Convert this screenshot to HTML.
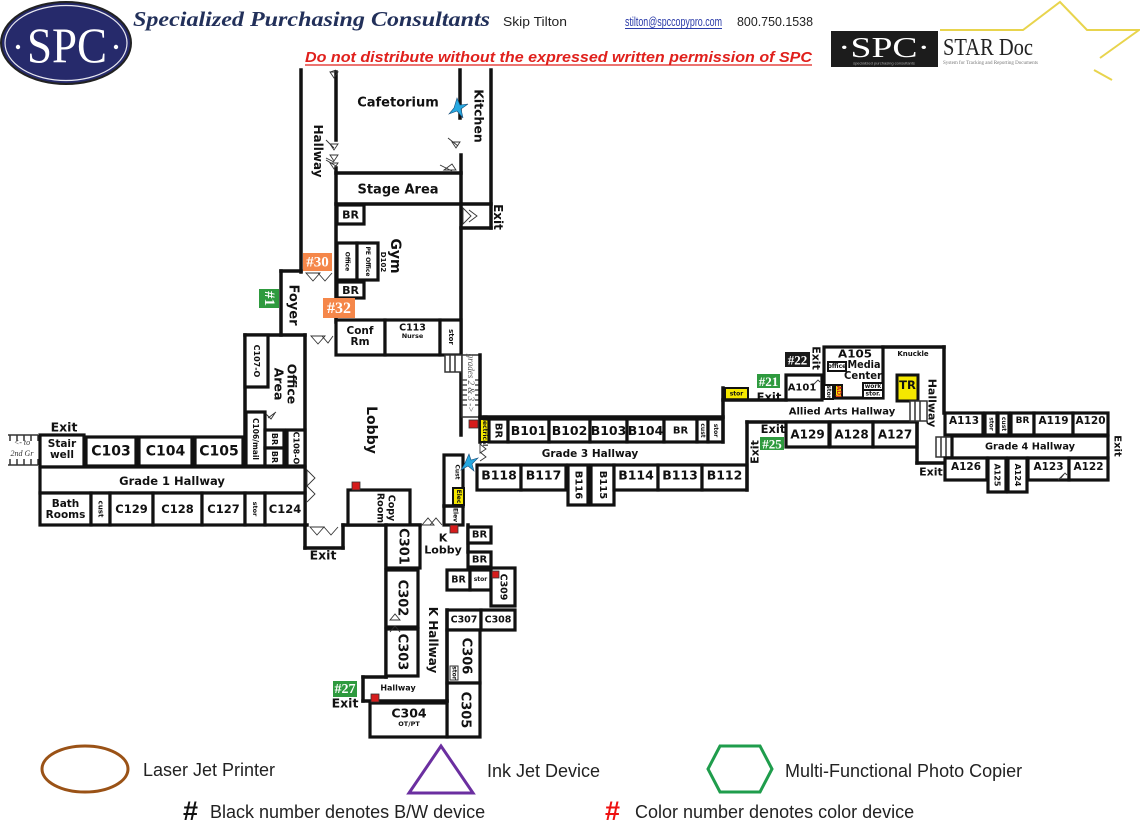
<!DOCTYPE html>
<html><head><meta charset="utf-8"><style>
html,body{margin:0;padding:0;background:#fff;}
svg{display:block}
.w{stroke:#111;stroke-width:3.5;fill:none;stroke-linecap:square}
.r{stroke:#111;stroke-width:3.2;fill:#fff}
.y{stroke:#111;stroke-width:2;fill:#f5e800}
.t{font-family:"DejaVu Sans",sans-serif;font-weight:bold;fill:#111;text-anchor:middle;dominant-baseline:central}
.s{font-family:"DejaVu Sans",sans-serif;font-weight:bold;fill:#111;text-anchor:middle;dominant-baseline:central;font-size:6px}
.d{stroke:#333;stroke-width:0.9;fill:none}
.b{font-family:"Liberation Serif",serif;font-weight:bold;fill:#fff;text-anchor:middle;dominant-baseline:central}
.lg{font-family:"Liberation Sans",sans-serif;fill:#222;font-size:18px}
</style></head><body>
<svg width="1140" height="828" viewBox="0 0 1140 828" xmlns="http://www.w3.org/2000/svg">
<!-- HEADER -->
<ellipse cx="66" cy="43" rx="65" ry="41" fill="#262a6b" stroke="#222" stroke-width="2"/>
<ellipse cx="66" cy="43" rx="61" ry="37.5" fill="none" stroke="#e8e8f0" stroke-width="1.2"/>
<text x="67" y="62" font-family="Liberation Serif,serif" font-size="50" fill="#fff" text-anchor="middle" textLength="80" lengthAdjust="spacingAndGlyphs">SPC</text>
<circle cx="18" cy="47" r="2.2" fill="#fff"/><circle cx="116" cy="47" r="2.2" fill="#fff"/>
<text x="133" y="26" font-family="Liberation Serif,serif" font-weight="bold" font-style="italic" font-size="21" fill="#22305a" textLength="357" lengthAdjust="spacingAndGlyphs">Specialized Purchasing Consultants</text>
<text x="503" y="26" font-family="Liberation Sans,sans-serif" font-size="13" fill="#222" textLength="64" lengthAdjust="spacingAndGlyphs">Skip Tilton</text>
<text x="625" y="26" font-family="Liberation Sans,sans-serif" font-size="13" fill="#2a3aa8" textLength="97" lengthAdjust="spacingAndGlyphs">stilton@spccopypro.com</text>
<line x1="625" y1="28.5" x2="722" y2="28.5" stroke="#2a3aa8" stroke-width="1"/>
<text x="737" y="26" font-family="Liberation Sans,sans-serif" font-size="13" fill="#222" textLength="76" lengthAdjust="spacingAndGlyphs">800.750.1538</text>
<text x="305" y="62" font-family="Liberation Sans,sans-serif" font-weight="bold" font-style="italic" font-size="15" fill="#e0201c" textLength="507" lengthAdjust="spacingAndGlyphs">Do not distribute without the expressed written permission of SPC</text>
<line x1="305" y1="65" x2="812" y2="65" stroke="#e0201c" stroke-width="1.2"/>
<!-- STAR Doc logo -->
<polyline points="940,30 1023,30 1060,2 1087,30 1139,30 1100,58" fill="none" stroke="#e8d44d" stroke-width="2"/>
<polyline points="1094,70 1112,80" fill="none" stroke="#e8d44d" stroke-width="2"/>
<rect x="831" y="31" width="107" height="36" fill="#1c1c1c"/>
<text x="884" y="57" font-family="Liberation Serif,serif" font-size="29" fill="#fff" text-anchor="middle" textLength="92" lengthAdjust="spacingAndGlyphs">·SPC·</text>
<text x="884" y="64.5" font-family="Liberation Sans,sans-serif" font-size="4" fill="#aaa" text-anchor="middle">specialized purchasing consultants</text>
<text x="943" y="55" font-family="Liberation Serif,serif" font-size="24" fill="#222" textLength="90" lengthAdjust="spacingAndGlyphs">STAR Doc</text>
<text x="943" y="64" font-family="Liberation Serif,serif" font-size="5" fill="#777" textLength="95" lengthAdjust="spacingAndGlyphs">System for Tracking and Reporting Documents</text>

<!-- TOP SECTION WALLS -->
<line class="w" x1="301" y1="70" x2="301" y2="272"/>
<line class="w" x1="336" y1="72" x2="336" y2="140"/>
<line class="w" x1="336" y1="168" x2="336" y2="322"/>
<line class="w" x1="460" y1="70" x2="460" y2="118"/>
<line class="w" x1="461" y1="155" x2="461" y2="435"/>
<line class="w" x1="491" y1="70" x2="491" y2="228"/>
<line class="w" x1="336" y1="173" x2="461" y2="173"/>
<line class="w" x1="336" y1="204" x2="491" y2="204"/>
<line class="w" x1="461" y1="228" x2="491" y2="228"/>
<rect class="r" x="337" y="205" width="27" height="19"/>
<rect class="r" x="337" y="243" width="20" height="37"/>
<rect class="r" x="357" y="243" width="21" height="37"/>
<rect class="r" x="337" y="282" width="27" height="16"/>
<rect class="r" x="336" y="320" width="49" height="35"/>
<rect class="r" x="385" y="320" width="55" height="35"/>
<rect class="r" x="440" y="320" width="21" height="35"/>
<!-- Foyer -->
<line class="w" x1="281" y1="271" x2="281" y2="335"/>
<line class="w" x1="281" y1="271" x2="301" y2="271"/>

<!-- doors top -->
<path class="d" d="M330 72 l6 -2 M330 72 l4 6 l4 -6 z"/>
<path class="d" d="M330 144 l4 6 l4 -6 z M330 155 l4 6 l4 -6 z M326 140 l8 8 M326 158 l8 4"/>
<path class="d" d="M330 163 l4 6 l4 -6 z M326 160 l10 6"/>
<path class="d" d="M452 142 l4 6 l4 -6 z M448 138 l10 8"/>
<path class="d" d="M444 170 l8 -6 l4 6 z M440 165 l12 6"/>
<path class="d" d="M463 208 l8 8 l-8 8 z M469 210 l8 6 l-8 6"/>
<path class="d" d="M306 273 l7 8 l7 -8 z M318 273 l7 8 l7 -8"/>
<path class="d" d="M311 336 l7 8 l7 -8 z M322 336 l6 7 l5 -7"/>

<!-- Office area -->
<line class="w" x1="245" y1="335" x2="305" y2="335"/>
<line class="w" x1="245" y1="335" x2="245" y2="467"/>
<line class="w" x1="305" y1="335" x2="305" y2="548"/>
<rect class="r" x="245" y="335" width="23" height="52"/>
<rect class="r" x="246" y="412" width="19" height="54"/>
<rect class="r" x="265" y="430" width="19" height="18"/>
<rect class="r" x="265" y="448" width="19" height="18"/>
<rect class="r" x="287" y="430" width="18" height="36"/>
<path class="d" d="M266 414 l5 5 l4 -6 M268 418 l8 -6"/>

<!-- Left wing -->
<path class="d" style="stroke-width:1.5" d="M8 435 H38 M10 435 v6 M17 435 v6 M24 435 v6 M31 435 v6 M38 435 v6 M8 465 H38 M10 465 v-6 M17 465 v-6 M24 465 v-6 M31 465 v-6 M38 465 v-6"/>
<text x="22" y="445" font-family="Liberation Serif,serif" font-style="italic" font-size="8" fill="#333" text-anchor="middle">&lt;- to</text>
<text x="22" y="456" font-family="Liberation Serif,serif" font-style="italic" font-size="8" fill="#333" text-anchor="middle">2nd Gr</text>
<rect class="r" x="40" y="435" width="44" height="32"/>
<rect class="r" x="86" y="437" width="50" height="29"/>
<rect class="r" x="139" y="437" width="53" height="29"/>
<rect class="r" x="195" y="437" width="48" height="29"/>
<rect class="r" x="40" y="467" width="265" height="26"/>
<rect class="r" x="40" y="493" width="51" height="32"/>
<rect class="r" x="91" y="493" width="19" height="32"/>
<rect class="r" x="110" y="493" width="43" height="32"/>
<rect class="r" x="153" y="493" width="49" height="32"/>
<rect class="r" x="202" y="493" width="43" height="32"/>
<rect class="r" x="245" y="493" width="20" height="32"/>
<rect class="r" x="265" y="493" width="40" height="32"/>
<path class="d" d="M307 470 l8 8 l-8 8 z M307 486 l8 8 l-8 8"/>
<!-- exit box below -->
<line class="w" x1="305" y1="548" x2="343" y2="548"/>
<line class="w" x1="343" y1="525" x2="343" y2="548"/>
<path class="d" d="M310 527 l7 8 l7 -8 z M324 527 l7 8 l7 -8"/>

<!-- Lobby bottom -->
<line class="w" x1="305" y1="525" x2="307" y2="525"/>
<line class="w" x1="343" y1="525" x2="420" y2="525"/>
<rect class="r" x="348" y="490" width="62" height="35"/>
<rect x="352" y="482" width="8" height="8" fill="#d61c1c" stroke="#333" stroke-width="0.8"/>

<!-- stairs center -->
<rect x="445" y="355" width="17" height="17" fill="#fff" stroke="#333" stroke-width="1.5"/>
<path class="d" style="stroke-width:1.5" d="M450 355 v17 M455 355 v17"/>
<rect x="462" y="355" width="18" height="62" fill="#fff" stroke="#333" stroke-width="1.5"/>
<path class="d" style="stroke-width:1.3" d="M462 380 h5 M462 385 h5 M462 390 h5 M462 395 h5 M462 400 h5 M462 405 h5 M475 380 h5 M475 385 h5 M475 390 h5 M475 395 h5 M475 400 h5 M475 405 h5"/>
<text transform="translate(471,383) rotate(90)" font-family="Liberation Serif,serif" font-style="italic" font-size="9" fill="#555" text-anchor="middle" dominant-baseline="central">grades 2 &amp; 3 -&gt;</text>
<line class="w" x1="480" y1="355" x2="480" y2="442"/>
<rect x="469" y="420" width="9" height="8" fill="#d61c1c" stroke="#333" stroke-width="0.8"/>
<rect class="y" x="480" y="419" width="9" height="23"/>
<path class="d" d="M480 444 l6 5 l-6 4 z M480 452 l6 5 l-6 4"/>

<!-- Cust / Elec column -->
<rect class="r" x="444" y="455" width="19" height="70"/>
<rect class="y" x="453" y="488" width="11" height="17"/>
<line class="w" x1="444" y1="506" x2="463" y2="506"/>
<path class="d" d="M422 525 l6 -7 l6 7 z M430 525 l6 -7 l6 7"/>
<rect x="450" y="525" width="8" height="8" fill="#d61c1c" stroke="#333" stroke-width="0.8"/>

<!-- K wing -->
<line class="w" x1="386" y1="525" x2="386" y2="677"/>
<rect class="r" x="386" y="525" width="34" height="43"/>
<rect class="r" x="386" y="570" width="32" height="57"/>
<rect class="r" x="386" y="629" width="32" height="47"/>
<path class="d" d="M390 620 l5 -6 l5 6 z M390 632 l5 -6 l5 6"/>
<line class="w" x1="468" y1="525" x2="468" y2="552"/>
<rect class="r" x="468" y="527" width="23" height="16"/>
<rect class="r" x="468" y="552" width="23" height="15"/>
<rect class="r" x="447" y="570" width="23" height="20"/>
<rect class="r" x="470" y="570" width="21" height="20"/>
<rect class="r" x="491" y="568" width="24" height="38"/>
<rect x="492" y="571" width="7" height="7" fill="#d61c1c" stroke="#333" stroke-width="0.8"/>
<rect class="r" x="447" y="610" width="34" height="20"/>
<rect class="r" x="481" y="610" width="34" height="20"/>
<rect class="r" x="447" y="630" width="33" height="53"/>
<rect x="450" y="666" width="8" height="14" fill="#fff" stroke="#333" stroke-width="1"/>
<rect class="r" x="447" y="683" width="33" height="54"/>
<line class="w" x1="447" y1="610" x2="447" y2="701"/>
<line class="w" x1="363" y1="677" x2="386" y2="677"/>
<line class="w" x1="363" y1="677" x2="363" y2="701"/>
<line class="w" x1="363" y1="701" x2="447" y2="701"/>
<rect class="r" x="370" y="703" width="77" height="34"/>
<rect x="371" y="694" width="8" height="8" fill="#d61c1c" stroke="#333" stroke-width="0.8"/>
<rect x="333" y="681" width="24" height="16" fill="#2e9a3e"/>
<text class="b" x="345" y="689.5" font-size="14">#27</text>

<!-- B wing -->
<line class="w" x1="480" y1="417" x2="723" y2="417"/>
<rect class="r" x="489" y="419" width="19" height="23"/>
<rect class="r" x="508" y="419" width="41" height="23"/>
<rect class="r" x="549" y="419" width="41" height="23"/>
<rect class="r" x="590" y="419" width="37" height="23"/>
<rect class="r" x="627" y="419" width="37" height="23"/>
<rect class="r" x="664" y="419" width="33" height="23"/>
<rect class="r" x="697" y="419" width="11" height="23"/>
<rect class="r" x="708" y="419" width="15" height="23"/>
<line class="w" x1="723" y1="388" x2="723" y2="442"/>
<rect class="y" x="725" y="388" width="23" height="12"/>
<line class="w" x1="723" y1="400" x2="786" y2="400"/>
<rect class="r" x="477" y="465" width="44" height="25"/>
<rect class="r" x="521" y="465" width="45" height="25"/>
<rect class="r" x="568" y="465" width="20" height="40"/>
<rect class="r" x="591" y="465" width="23" height="40"/>
<rect class="r" x="614" y="465" width="44" height="25"/>
<rect class="r" x="658" y="465" width="44" height="25"/>
<rect class="r" x="702" y="465" width="45" height="25"/>
<line class="w" x1="747" y1="422" x2="747" y2="490"/>

<!-- A wing -->
<line class="w" x1="747" y1="422" x2="917" y2="422"/>
<rect class="r" x="786" y="422" width="43" height="25"/>
<rect class="r" x="830" y="422" width="43" height="25"/>
<rect class="r" x="873" y="422" width="44" height="25"/>
<line class="w" x1="917" y1="422" x2="917" y2="463"/>
<line class="w" x1="917" y1="463" x2="945" y2="463"/>
<rect class="r" x="786" y="375" width="36" height="25"/>
<path class="d" d="M814 384 l4 -4 l2 2 M812 386 l5 -5"/>
<rect class="r" x="824" y="347" width="59" height="51"/>
<rect x="828" y="362" width="18" height="9" fill="#fff" stroke="#111" stroke-width="2"/>
<rect x="824" y="385" width="9" height="14" fill="#fff" stroke="#111" stroke-width="2"/>
<rect class="y" x="835" y="385" width="7" height="13"/>
<rect x="863" y="383" width="20" height="7" fill="#fff" stroke="#111" stroke-width="2"/>
<rect x="863" y="390" width="20" height="8" fill="#fff" stroke="#111" stroke-width="2"/>
<line class="w" x1="883" y1="347" x2="944" y2="347"/>
<line class="w" x1="944" y1="347" x2="944" y2="413"/>
<rect x="897" y="375" width="21" height="26" fill="#f5e800" stroke="#111" stroke-width="3"/>
<rect x="910" y="401" width="17" height="20" fill="#fff" stroke="#333" stroke-width="1.5"/>
<path class="d" style="stroke-width:1.5" d="M915 401 v20 M920 401 v20"/>
<rect x="785" y="352" width="25" height="15" fill="#1a1a1a"/>
<text class="b" x="797.5" y="360" font-size="13">#22</text>
<rect x="757" y="374" width="23" height="14" fill="#2e9a3e"/>
<text class="b" x="768.5" y="381.5" font-size="13">#21</text>
<rect x="760" y="437" width="24" height="13" fill="#2e9a3e"/>
<text class="b" x="772" y="444" font-size="13">#25</text>
<rect class="r" x="945" y="413" width="38" height="22"/>
<rect class="r" x="985" y="413" width="12" height="22"/>
<rect class="r" x="998" y="413" width="11" height="22"/>
<rect class="r" x="1011" y="413" width="23" height="22"/>
<rect class="r" x="1034" y="413" width="39" height="22"/>
<rect class="r" x="1073" y="413" width="35" height="22"/>
<rect x="936" y="437" width="16" height="20" fill="#fff" stroke="#333" stroke-width="1.5"/>
<path class="d" style="stroke-width:1.5" d="M941 437 v20 M946 437 v20"/>
<rect class="r" x="952" y="436" width="156" height="22"/>
<rect class="r" x="945" y="458" width="42" height="22"/>
<rect class="r" x="988" y="458" width="18" height="34"/>
<rect class="r" x="1008" y="458" width="19" height="34"/>
<rect class="r" x="1028" y="458" width="41" height="22"/>
<rect class="r" x="1069" y="458" width="39" height="22"/>
<path class="d" d="M1061 478 l4 -5 l2 2 M1058 480 l6 -6"/>

<!-- stars -->
<path d="M457 98 L460 105 L468 104 L461 109 L463 118 L457 111 L449 114 L454 108 Z" fill="#27a9e1" stroke="#1a4f7a" stroke-width="0.6"/>
<path d="M469 454 L471 460 L478 458 L472 464 L474 471 L468 466 L461 470 L465 463 Z" fill="#27a9e1" stroke="#1a4f7a" stroke-width="0.6"/>

<!-- badges -->
<rect x="303" y="253" width="29" height="18" fill="#f5874a"/>
<text class="b" x="317.5" y="262.5" font-size="15">#30</text>
<rect x="323" y="298" width="32" height="20" fill="#f5874a"/>
<text class="b" x="339" y="308.5" font-size="16">#32</text>
<rect x="259" y="289" width="20" height="19" fill="#2e9a3e"/>
<text class="b" transform="translate(269,298.5) rotate(90)" font-size="15">#1</text>

<!-- LABELS -->
<text class="t" x="398" y="103" font-size="13">Cafetorium</text>
<text class="t" transform="translate(318,151) rotate(90)" font-size="12">Hallway</text>
<text class="t" transform="translate(479,116) rotate(90)" font-size="12.5">Kitchen</text>
<text class="t" transform="translate(498,217) rotate(90)" font-size="12">Exit</text>
<text class="t" x="398" y="190" font-size="13">Stage Area</text>
<text class="t" x="350.5" y="215" font-size="11">BR</text>
<text class="t" x="350.5" y="290.5" font-size="11">BR</text>
<text class="s" transform="translate(347,261.5) rotate(90)" font-size="5.5">Office</text>
<text class="s" transform="translate(367.5,261.5) rotate(90)" font-size="5.5">PE Office</text>
<text class="t" transform="translate(395,256) rotate(90)" font-size="14">Gym</text>
<text class="t" transform="translate(383,262) rotate(90)" font-size="7">D102</text>
<text class="t" transform="translate(293,305) rotate(90)" font-size="13">Foyer</text>
<text class="t" x="360" y="331" font-size="10.5">Conf</text>
<text class="t" x="360" y="342" font-size="10.5">Rm</text>
<text class="t" x="412.5" y="328" font-size="9.5">C113</text>
<text class="t" x="412.5" y="336" font-size="6.5">Nurse</text>
<text class="t" transform="translate(451,337) rotate(90)" font-size="7">stor</text>
<text class="t" transform="translate(256.5,361) rotate(90)" font-size="8">C107-O</text>
<text class="t" transform="translate(292,384) rotate(90)" font-size="12.5">Office</text>
<text class="t" transform="translate(279,384) rotate(90)" font-size="12.5">Area</text>
<text class="t" transform="translate(255.5,439) rotate(90)" font-size="7.5">C106/mail</text>
<text class="t" transform="translate(274.5,439) rotate(90)" font-size="8">BR</text>
<text class="t" transform="translate(274.5,457) rotate(90)" font-size="8">BR</text>
<text class="t" transform="translate(296,448) rotate(90)" font-size="8">C108-O</text>
<text class="t" x="64" y="427" font-size="12.5">Exit</text>
<text class="t" x="62" y="444" font-size="10.5">Stair</text>
<text class="t" x="62" y="455" font-size="10.5">well</text>
<text class="t" x="111" y="451.5" font-size="14">C103</text>
<text class="t" x="165.5" y="451.5" font-size="14">C104</text>
<text class="t" x="219" y="451.5" font-size="14">C105</text>
<text class="t" x="172" y="481" font-size="11.5">Grade 1 Hallway</text>
<text class="t" x="65.5" y="504" font-size="10.5">Bath</text>
<text class="t" x="65.5" y="515" font-size="10.5">Rooms</text>
<text class="t" transform="translate(100.5,509) rotate(90)" font-size="7">cust</text>
<text class="t" x="131.5" y="509" font-size="11.5">C129</text>
<text class="t" x="177.5" y="509" font-size="11.5">C128</text>
<text class="t" x="223.5" y="509" font-size="11.5">C127</text>
<text class="t" transform="translate(255,509) rotate(90)" font-size="6.5">stor</text>
<text class="t" x="285" y="509" font-size="11.5">C124</text>
<text class="t" x="323" y="555" font-size="12.5">Exit</text>
<text class="t" transform="translate(371,430) rotate(90)" font-size="14">Lobby</text>
<text class="t" transform="translate(391,508) rotate(90)" font-size="9.5">Copy</text>
<text class="t" transform="translate(380,508) rotate(90)" font-size="9.5">Room</text>
<text class="s" transform="translate(457,472) rotate(90)" font-size="7">Cust</text>
<text class="s" transform="translate(458.5,496.5) rotate(90)" font-size="5.5">Elec</text>
<text class="s" transform="translate(455,515) rotate(90)" font-size="5.5">Elev</text>
<text class="s" transform="translate(484.5,430.5) rotate(90)" font-size="4.5">Electrical</text>
<text class="t" x="443" y="538" font-size="11">K</text>
<text class="t" x="443" y="550" font-size="11">Lobby</text>
<text class="t" x="479.5" y="535" font-size="10">BR</text>
<text class="t" x="479.5" y="560" font-size="10">BR</text>
<text class="t" x="458.5" y="580" font-size="9.5">BR</text>
<text class="s" x="480.5" y="579.5" font-size="6">stor</text>
<text class="t" transform="translate(503,587) rotate(90)" font-size="9.5">C309</text>
<text class="t" transform="translate(403,546.5) rotate(90)" font-size="13">C301</text>
<text class="t" transform="translate(402,598) rotate(90)" font-size="13">C302</text>
<text class="t" transform="translate(402,652) rotate(90)" font-size="13">C303</text>
<text class="t" transform="translate(433,640) rotate(90)" font-size="12">K Hallway</text>
<text class="t" x="464" y="620" font-size="9.5">C307</text>
<text class="t" x="498" y="620" font-size="9.5">C308</text>
<text class="t" transform="translate(466,656) rotate(90)" font-size="13">C306</text>
<text class="s" transform="translate(454,673) rotate(90)" font-size="4.5">stor</text>
<text class="t" transform="translate(465,710) rotate(90)" font-size="13">C305</text>
<text class="t" x="398" y="688" font-size="8">Hallway</text>
<text class="t" x="409" y="713" font-size="12.5">C304</text>
<text class="t" x="409" y="724" font-size="6.5">OT/PT</text>
<text class="t" x="345" y="703" font-size="12.5">Exit</text>
<text class="t" transform="translate(498,430.5) rotate(90)" font-size="10">BR</text>
<text class="t" x="528.5" y="430.5" font-size="12.5">B101</text>
<text class="t" x="569.5" y="430.5" font-size="12.5">B102</text>
<text class="t" x="608.5" y="430.5" font-size="12.5">B103</text>
<text class="t" x="645.5" y="430.5" font-size="12.5">B104</text>
<text class="t" x="680.5" y="431" font-size="10">BR</text>
<text class="s" transform="translate(702.5,430.5) rotate(90)" font-size="5">cust</text>
<text class="s" transform="translate(715.5,430.5) rotate(90)" font-size="5">stor</text>
<text class="s" x="736.5" y="394" font-size="5.5">stor</text>
<text class="t" x="590" y="454" font-size="10.5">Grade 3 Hallway</text>
<text class="t" x="499" y="475" font-size="12.5">B118</text>
<text class="t" x="543.5" y="475" font-size="12.5">B117</text>
<text class="t" transform="translate(578,485) rotate(90)" font-size="10">B116</text>
<text class="t" transform="translate(602.5,485) rotate(90)" font-size="10">B115</text>
<text class="t" x="636" y="475" font-size="12.5">B114</text>
<text class="t" x="680" y="475" font-size="12.5">B113</text>
<text class="t" x="724.5" y="475" font-size="12.5">B112</text>
<text class="t" transform="translate(755,452) rotate(-90)" font-size="11">Exit</text>
<text class="t" x="769" y="397" font-size="11.5">Exit</text>
<text class="t" transform="translate(816,358) rotate(90)" font-size="11">Exit</text>
<text class="t" x="802" y="388" font-size="10">A101</text>
<text class="t" x="855" y="354" font-size="11" textLength="34" lengthAdjust="spacingAndGlyphs">A105</text>
<text class="t" x="864" y="365" font-size="10.5" textLength="33" lengthAdjust="spacingAndGlyphs">Media</text>
<text class="t" x="863" y="376" font-size="10.5" textLength="38" lengthAdjust="spacingAndGlyphs">Center</text>
<text class="s" x="837" y="366.5" font-size="4.5">office</text>
<text class="s" transform="translate(828.5,392) rotate(90)" font-size="4.5">stor</text>
<text class="s" transform="translate(838.5,391.5) rotate(90)" font-size="4" style="fill:#d02020">ADJ</text>
<text class="s" x="873" y="386.5" font-size="4.5">work</text>
<text class="s" x="873" y="394" font-size="4.5">stor.</text>
<text class="t" x="913" y="354" font-size="7">Knuckle</text>
<text class="t" x="907.5" y="385" font-size="11.5">TR</text>
<text class="t" transform="translate(932,403) rotate(90)" font-size="11">Hallway</text>
<text class="t" x="842" y="412" font-size="10">Allied Arts Hallway</text>
<text class="t" x="773" y="429" font-size="11.5">Exit</text>
<text class="t" x="807.5" y="434.5" font-size="12">A129</text>
<text class="t" x="851.5" y="434.5" font-size="12">A128</text>
<text class="t" x="895" y="434.5" font-size="12">A127</text>
<text class="t" x="931" y="472" font-size="11">Exit</text>
<text class="t" x="964" y="421" font-size="10.5">A113</text>
<text class="s" transform="translate(991,424) rotate(90)" font-size="4.5">stor</text>
<text class="s" transform="translate(1003.5,424) rotate(90)" font-size="4.5">cust</text>
<text class="t" x="1022.5" y="421" font-size="9">BR</text>
<text class="t" x="1053.5" y="421" font-size="10.5">A119</text>
<text class="t" x="1090.5" y="421" font-size="10.5">A120</text>
<text class="t" x="1030" y="447" font-size="9.8">Grade 4 Hallway</text>
<text class="t" transform="translate(1117,446) rotate(90)" font-size="10">Exit</text>
<text class="t" x="966" y="467" font-size="10.5">A126</text>
<text class="t" transform="translate(997,475) rotate(90)" font-size="8">A125</text>
<text class="t" transform="translate(1017.5,475) rotate(90)" font-size="8">A124</text>
<text class="t" x="1048.5" y="467" font-size="10.5">A123</text>
<text class="t" x="1088.5" y="467" font-size="10.5">A122</text>

<!-- LEGEND -->
<ellipse cx="85" cy="769" rx="43" ry="23" fill="none" stroke="#9a5216" stroke-width="3"/>
<text class="lg" x="143" y="776">Laser Jet Printer</text>
<polygon points="441,746 409,793 473,793" fill="none" stroke="#6b2fa0" stroke-width="3"/>
<text class="lg" x="487" y="777">Ink Jet Device</text>
<polygon points="720,746 760,746 772,769 760,792 720,792 708,769" fill="none" stroke="#1f9d4c" stroke-width="3"/>
<text class="lg" x="785" y="777">Multi-Functional Photo Copier</text>
<text x="183" y="820" font-family="Liberation Sans,sans-serif" font-weight="bold" font-size="27" fill="#111">#</text>
<text class="lg" x="210" y="818">Black number denotes B/W device</text>
<text x="605" y="820" font-family="Liberation Sans,sans-serif" font-weight="bold" font-size="27" fill="#ee1111">#</text>
<text class="lg" x="635" y="818">Color number denotes color device</text>
</svg>
</body></html>
